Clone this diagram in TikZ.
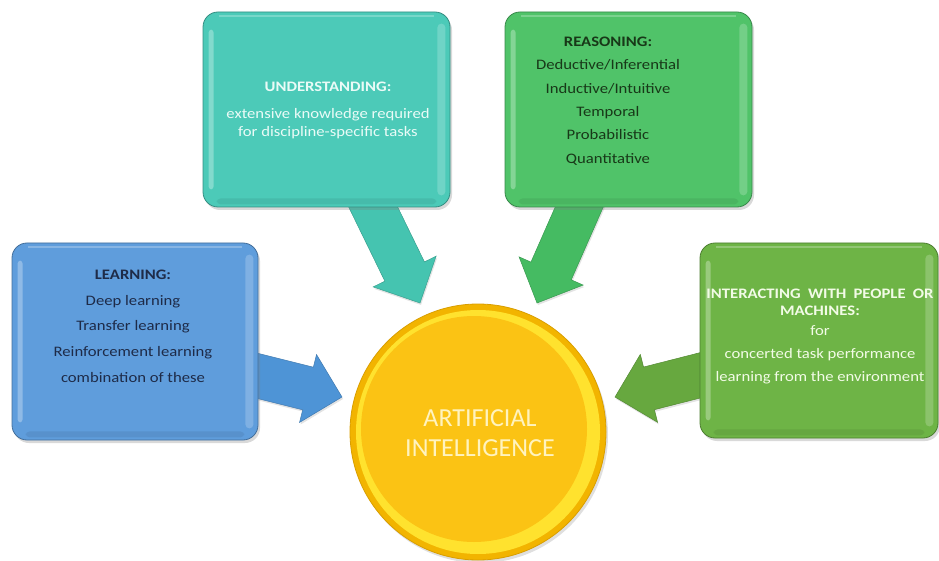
\documentclass[tikz,border=0pt]{standalone}
\usepackage{fontspec}
\setmainfont{Carlito}
\newfontfamily\boxfont[FakeStretch=1.15]{Carlito}
\usetikzlibrary{calc,shadows}

% panel colours
\definecolor{learnblue}{HTML}{5F9DDC}
\definecolor{underteal}{HTML}{4CCAB8}
\definecolor{reasongreen}{HTML}{50C369}
\definecolor{interactgreen}{HTML}{6EB446}
% arrow colours
\definecolor{learnarrow}{HTML}{4E94D6}
\definecolor{underarrow}{HTML}{45C4B0}
\definecolor{reasonarrow}{HTML}{45BB62}
\definecolor{interactarrow}{HTML}{67A83F}
% text colours
\definecolor{learntext}{HTML}{1E2B48}
\definecolor{reasontext}{HTML}{183818}
\definecolor{undertext}{HTML}{EAFBF7}
\definecolor{interacttext}{HTML}{F2FBE6}
% central disc
\definecolor{aiedge}{HTML}{F2B400}
\definecolor{aidark}{HTML}{D99E00}
\definecolor{aiglow}{HTML}{FFE22E}
\definecolor{aibase}{HTML}{FBC314}
\definecolor{aitext}{HTML}{FFF3BF}

% wider word spacing for panel text
\newcommand{\widesp}{\spaceskip=0.5em plus 0.1em\relax}

% fat block arrow: #1 start coordinate, #2 tip coordinate, #3 colour
\newcommand{\blockarrow}[3]{%
  \coordinate (#1-h) at ($(#2)!35pt!(#1)$);
  \filldraw[fill=#3, draw=#3!82!black, line width=0.5pt,
            drop shadow={opacity=0.22,shadow xshift=1pt,shadow yshift=-2pt}]
    ($(#1)!22pt!90:(#2)$) -- ($(#1-h)!22pt!90:(#2)$) --
    ($(#1-h)!35pt!90:(#2)$) -- (#2) --
    ($(#1-h)!35pt!-90:(#2)$) -- ($(#1-h)!22pt!-90:(#2)$) --
    ($(#1)!22pt!-90:(#2)$) -- cycle;
}

% bevel highlights on a panel node
\newcommand{\bevel}[1]{%
  \fill[white, opacity=0.3, rounded corners=3pt]
    ($(#1.north west)+(6,18)$) rectangle ($(#1.south west)+(11,-18)$);
  \fill[white, opacity=0.2, rounded corners=4pt]
    ($(#1.north east)+(-13,12)$) rectangle ($(#1.south east)+(-5,-12)$);
  \fill[white, opacity=0.25]
    ($(#1.north west)+(16,3)$) rectangle ($(#1.north east)+(-16,5)$);
  \fill[black, opacity=0.07, rounded corners=4pt]
    ($(#1.south west)+(14,-9)$) rectangle ($(#1.south east)+(-14,-3)$);
}

\tikzset{
  panel/.style={rectangle, rounded corners=15pt, line width=0.8pt,
    fill=#1, draw=#1!70!black,
    drop shadow={opacity=0.3,shadow xshift=2pt,shadow yshift=-3pt}},
  paneltext/.style={align=center, inner sep=0pt},
}

\begin{document}
\begin{tikzpicture}[x=1pt,y=-1pt]
\useasboundingbox (0,0) rectangle (939,561);

% arrow end points
\coordinate (la-s) at (230,369);
\coordinate (la-t) at (342,397);
\coordinate (ua-s) at (359,178);
\coordinate (ua-t) at (420,303);
\coordinate (ra-s) at (592,178);
\coordinate (ra-t) at (537,303);
\coordinate (ia-s) at (725,369);
\coordinate (ia-t) at (615,397);

% central disc
\node[circle, minimum size=256pt, fill=aiedge, draw=aidark, line width=0.8pt,
      drop shadow={opacity=0.25,shadow xshift=2pt,shadow yshift=-3pt}]
      (ai) at (478,432) {};
\fill[aiglow] (ai.center) circle (122pt);
\fill[aibase] ($(ai.center)+(-4,-3)$) circle (113pt);
\node[font=\fontsize{26}{30}\selectfont, text=aitext, align=center]
      (ailabel) at ($(ai.center)+(2,1)$) {ARTIFICIAL\\INTELLIGENCE};

% arrows into the disc
\blockarrow{la-s}{la-t}{learnarrow}
\blockarrow{ua-s}{ua-t}{underarrow}
\blockarrow{ra-s}{ra-t}{reasonarrow}
\blockarrow{ia-s}{ia-t}{interactarrow}

% panels
\node[panel=learnblue, minimum width=246pt, minimum height=197pt] (learn) at (135,341.5) {};
\bevel{learn}
\node[panel=underteal, minimum width=247pt, minimum height=195pt] (under) at (326.5,109.5) {};
\bevel{under}
\node[panel=reasongreen, minimum width=247pt, minimum height=195pt] (reason) at (628.5,109.5) {};
\bevel{reason}
\node[panel=interactgreen, minimum width=238pt, minimum height=195pt] (interact) at (819,340.5) {};
\bevel{interact}

% panel texts
\node[paneltext, text=learntext, font=\boxfont\fontsize{14.5}{25.7}\selectfont]
  (learnlabel) at (133,326)
  {\widesp\textbf{LEARNING:}\\Deep learning\\Transfer learning\\Reinforcement learning\\combination of these};

\node[paneltext, text=undertext, font=\boxfont\fontsize{14.5}{18}\selectfont]
  (underlabel) at (328,110)
  {\widesp\textbf{UNDERSTANDING:}\\[9pt]extensive knowledge required\\for discipline-specific tasks};

\node[paneltext, text=reasontext, font=\boxfont\fontsize{14.5}{23.4}\selectfont]
  (reasonlabel) at (608,101)
  {\widesp\textbf{REASONING:}\\Deductive/Inferential\\Inductive/Intuitive\\Temporal\\Probabilistic\\Quantitative};

\node[paneltext, text=interacttext, font=\boxfont\fontsize{14.5}{17}\selectfont]
  (interactlabel) at (820,336)
  {\widesp\textbf{INTERACTING WITH PEOPLE OR}\\\textbf{MACHINES:}\\[3pt]for\\[6pt]concerted task performance\\[6pt]learning from the environment};
\end{tikzpicture}
\end{document}
